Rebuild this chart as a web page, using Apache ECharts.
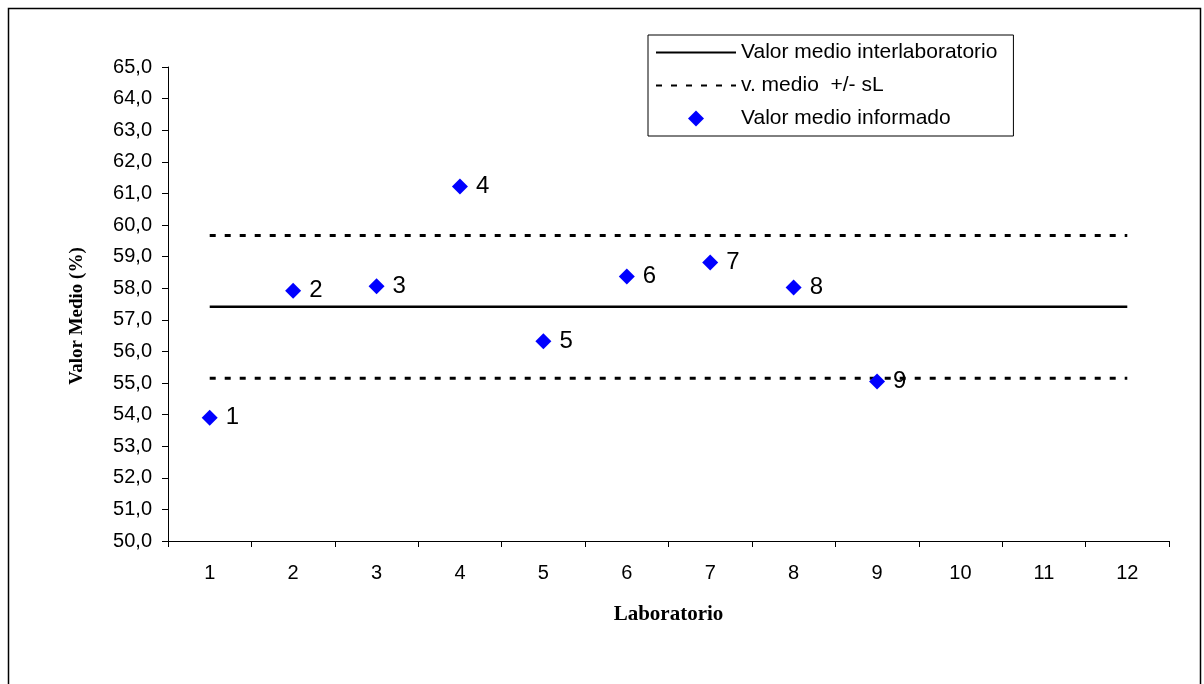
<!DOCTYPE html>
<html>
<head>
<meta charset="utf-8">
<script src="https://cdn.jsdelivr.net/npm/echarts@6/dist/echarts.min.js"></script>
<style>html,body{margin:0;padding:0;background:#fff;}#chart{width:1204px;height:684px;}</style>
</head>
<body>
<div id="chart"></div>
<script>
const categories = ['1','2','3','4','5','6','7','8','9','10','11','12'];
const labValues = [53.90, 57.92, 58.06, 61.22, 56.32, 58.37, 58.81, 58.02, 55.05];
const labNames = ['1','2','3','4','5','6','7','8','9'];
const meanLine = [57.41,57.41,57.41,57.41,57.41,57.41,57.41,57.41,57.41,57.41,57.41,57.41];
const upperLine = [59.67,59.67,59.67,59.67,59.67,59.67,59.67,59.67,59.67,59.67,59.67,59.67];
const lowerLine = [55.15,55.15,55.15,55.15,55.15,55.15,55.15,55.15,55.15,55.15,55.15,55.15];
const yTicks = {min: 50, max: 65, interval: 1};

const sans = 'Liberation Sans, Arial, sans-serif';
const serif = 'Liberation Serif, Times New Roman, serif';
const hidden = {color: 'rgba(0,0,0,0)', borderColor: 'rgba(0,0,0,0)', borderWidth: 0};
// centred diamond legend icon (outer moveTo points keep the icon box 80 wide)
const diamondIcon = 'path://M0,0M80,16M40,0L48,8L40,16L32,8Z';
const chart = echarts.init(document.getElementById('chart'), null, {renderer: 'canvas'});
chart.setOption({
  animation: false,
  backgroundColor: '#fff',
  graphic: [{
    type: 'rect', shape: {x: 8.5, y: 8.5, width: 1192, height: 700},
    style: {fill: 'none', stroke: '#000', lineWidth: 1.5}, silent: true, z: 0
  }],
  grid: {left: 168, right: 35, top: 67, bottom: 143, containLabel: false},
  legend: {
    orient: 'vertical', left: 648, top: 35,
    padding: [7, 16, 7, 7],
    borderColor: '#000', borderWidth: 1, backgroundColor: '#fff',
    itemWidth: 80, itemHeight: 17, itemGap: 12,
    textStyle: {fontFamily: sans, fontSize: 21, color: '#000', lineHeight: 21},
    selectedMode: false,
    data: [
      {name: 'Valor medio interlaboratorio', itemStyle: hidden},
      {name: 'v. medio  +/- sL', itemStyle: hidden},
      {name: 'Valor medio informado', icon: diamondIcon}
    ]
  },
  xAxis: {
    type: 'category', data: categories, boundaryGap: true,
    name: 'Laboratorio', nameLocation: 'middle', nameGap: 63,
    nameTextStyle: {fontFamily: serif, fontWeight: 'bold', fontSize: 21, color: '#000'},
    axisLine: {lineStyle: {color: '#000', width: 1}},
    axisTick: {show: true, alignWithLabel: false, length: 6, lineStyle: {color: '#000'}},
    axisLabel: {fontFamily: sans, fontSize: 20, color: '#000', margin: 22},
    splitLine: {show: false}
  },
  yAxis: {
    type: 'value', min: yTicks.min, max: yTicks.max, interval: yTicks.interval,
    name: 'Valor Medio (%)', nameLocation: 'middle', nameGap: 81, nameRotate: 90,
    nameTextStyle: {fontFamily: serif, fontWeight: 'bold', fontSize: 19, color: '#000', padding: [0, 24, 0, 0]},
    axisLine: {show: true, lineStyle: {color: '#000', width: 1}},
    axisTick: {show: true, length: 6, lineStyle: {color: '#000'}},
    axisLabel: {fontFamily: sans, fontSize: 20, color: '#000', margin: 16,
      formatter: v => v.toFixed(1).replace('.', ',')},
    splitLine: {show: false}
  },
  series: [
    {
      name: 'Valor medio interlaboratorio', type: 'line', data: meanLine,
      symbol: 'circle', showSymbol: false, silent: true, z: 2,
      lineStyle: {color: '#000', width: 2.5, type: 'solid'},
      itemStyle: hidden
    },
    {
      name: 'v. medio  +/- sL', type: 'line', data: upperLine,
      symbol: 'circle', showSymbol: false, silent: true, z: 2,
      lineStyle: {color: '#000', width: 3, type: [6, 9]},
      itemStyle: hidden
    },
    {
      name: 'v. medio  +/- sL', type: 'line', data: lowerLine,
      symbol: 'circle', showSymbol: false, silent: true, z: 2,
      lineStyle: {color: '#000', width: 3, type: [6, 9]},
      itemStyle: hidden
    },
    {
      name: 'Valor medio informado', type: 'scatter',
      data: labValues.map((v, i) => ({value: [categories[i], v], name: labNames[i]})),
      symbol: 'diamond', symbolSize: 16, z: 5,
      itemStyle: {color: '#0000FF', opacity: 1},
      label: {show: true, position: 'right', distance: 8, formatter: p => p.name,
        fontFamily: sans, fontSize: 24, color: '#000'}
    }
  ]
});
</script>
</body>
</html>
